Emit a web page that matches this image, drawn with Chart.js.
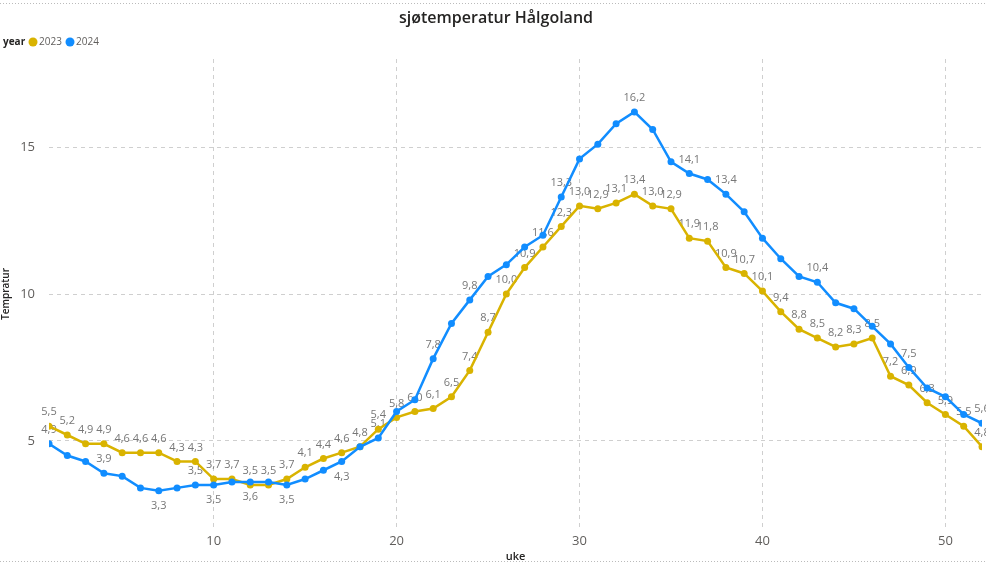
<!DOCTYPE html>
<html>
<head>
<meta charset="utf-8">
<script src="https://cdn.jsdelivr.net/npm/chart.js@4.4.0/dist/chart.umd.min.js"></script>
<style>
  html, body { margin: 0; padding: 0; background: #fff; }
  #wrap { width: 986px; height: 563px; }
</style>
</head>
<body>
<div id="wrap"><canvas id="myChart"></canvas></div>
<script>
// week numbers (uke)
const weeks = [1, 2, 3, 4, 5, 6, 7, 8, 9, 10, 11, 12, 13, 14, 15, 16, 17, 18, 19, 20, 21, 22, 23, 24, 25, 26,
  27, 28, 29, 30, 31, 32, 33, 34, 35, 36, 37, 38, 39, 40, 41, 42, 43, 44, 45, 46, 47, 48, 49, 50, 51, 52];

// sea temperature per week
const temp2023 = [5.5, 5.2, 4.9, 4.9, 4.6, 4.6, 4.6, 4.3, 4.3, 3.7, 3.7, 3.5, 3.5, 3.7, 4.1, 4.4, 4.6, 4.8, 5.4, 5.8,
  6.0, 6.1, 6.5, 7.4, 8.7, 10.0, 10.9, 11.6, 12.3, 13.0, 12.9, 13.1, 13.4, 13.0, 12.9, 11.9, 11.8, 10.9, 10.7, 10.1,
  9.4, 8.8, 8.5, 8.2, 8.3, 8.5, 7.2, 6.9, 6.3, 5.9, 5.5, 4.8];
const temp2024 = [4.9, 4.5, 4.3, 3.9, 3.8, 3.4, 3.3, 3.4, 3.5, 3.5, 3.6, 3.6, 3.6, 3.5, 3.7, 4.0, 4.3, 4.8, 5.1, 6.0,
  6.4, 7.8, 9.0, 9.8, 10.6, 11.0, 11.6, 12.0, 13.3, 14.6, 15.1, 15.8, 16.2, 15.6, 14.5, 14.1, 13.9, 13.4, 12.8, 11.9,
  11.2, 10.6, 10.4, 9.7, 9.5, 8.9, 8.3, 7.5, 6.8, 6.5, 5.9, 5.6];

const xTicks = [10, 20, 30, 40, 50];
const yTicks = [5, 10, 15];

// which 2024 weeks get a data label (the rest are hidden like in the report)
const labels2024Above = [1, 4, 9, 19, 22, 24, 29, 33, 36, 38, 43, 48, 52];
const labels2024Below = [7, 10, 12, 14, 17];

const YELLOW = '#D9B300';
const BLUE = '#118DFF';
const FONT = '"Open Sans", "DejaVu Sans", sans-serif';

const valueLabels = {
  id: 'valueLabels',
  beforeDatasetsDraw(chart) {
    const ctx = chart.ctx;
    ctx.save();
    ctx.font = '11px ' + FONT;
    ctx.fillStyle = '#777';
    ctx.textAlign = 'center';
    ctx.textBaseline = 'middle';
    chart.data.datasets.forEach((ds, i) => {
      const meta = chart.getDatasetMeta(i);
      meta.data.forEach((pt, j) => {
        const wk = weeks[j];
        let dy = null;
        if (ds.label === '2023') dy = -14;
        else if (labels2024Above.includes(wk)) dy = -14;
        else if (labels2024Below.includes(wk)) dy = 15;
        if (dy === null) return;
        ctx.fillText(ds.data[j].y.toFixed(1).replace('.', ','), pt.x, pt.y + dy);
      });
    });
    ctx.restore();
  }
};

// title, legend and the dotted visual border
const frame = {
  id: 'frame',
  afterDraw(chart) {
    const ctx = chart.ctx;
    const w = chart.width;
    ctx.save();
    ctx.strokeStyle = '#bbb';
    ctx.lineWidth = 1;
    ctx.setLineDash([1, 2]);
    ctx.beginPath();
    ctx.moveTo(0, 3.5); ctx.lineTo(w, 3.5);
    ctx.moveTo(0, 561.5); ctx.lineTo(w, 561.5);
    ctx.stroke();
    ctx.setLineDash([]);

    ctx.fillStyle = '#252423';
    ctx.font = '600 16px ' + FONT;
    ctx.textAlign = 'center';
    ctx.textBaseline = 'middle';
    ctx.fillText('sjøtemperatur Hålgoland', 496, 18);

    ctx.textAlign = 'left';
    ctx.font = 'bold 10px ' + FONT;
    ctx.fillText('year', 3, 42);
    ctx.font = '10px ' + FONT;
    const items = [['2023', YELLOW, 33], ['2024', BLUE, 70]];
    items.forEach(([txt, col, cx]) => {
      ctx.fillStyle = col;
      ctx.beginPath();
      ctx.arc(cx, 42, 4.5, 0, Math.PI * 2);
      ctx.fill();
      ctx.fillStyle = '#605E5C';
      ctx.fillText(txt, cx + 6, 42);
    });
    ctx.restore();
  }
};

const ctx = document.getElementById('myChart').getContext('2d');
new Chart(ctx, {
  type: 'line',
  data: {
    datasets: [
      {
        label: '2023',
        data: weeks.map((w, i) => ({ x: w, y: temp2023[i] })),
        borderColor: YELLOW,
        backgroundColor: YELLOW,
        borderWidth: 2.5,
        pointRadius: 3.5,
        pointBorderWidth: 0,
        tension: 0,
        order: 1
      },
      {
        label: '2024',
        data: weeks.map((w, i) => ({ x: w, y: temp2024[i] })),
        borderColor: BLUE,
        backgroundColor: BLUE,
        borderWidth: 2.5,
        pointRadius: 3.5,
        pointBorderWidth: 0,
        tension: 0,
        order: 0
      }
    ]
  },
  options: {
    responsive: true,
    maintainAspectRatio: false,
    animation: false,
    layout: { padding: { top: 59, right: 4, left: 0, bottom: 0 } },
    plugins: {
      legend: { display: false },
      title: { display: false },
      tooltip: { enabled: false }
    },
    scales: {
      x: {
        type: 'linear',
        min: 1,
        max: 52,
        afterBuildTicks: axis => { axis.ticks = xTicks.map(v => ({ value: v })); },
        afterFit: axis => { axis.height = 34; },
        border: { display: false, dash: [4, 4] },
        grid: { color: '#cfcfcf', lineWidth: 1, drawTicks: false },
        ticks: { color: '#605E5C', font: { family: FONT, size: 13 }, padding: 4, maxRotation: 0 },
        title: { display: true, text: 'uke', color: '#252423', font: { family: FONT, size: 11, weight: '600' }, padding: { top: 0, bottom: 0 } }
      },
      y: {
        min: 2,
        max: 18,
        afterBuildTicks: axis => { axis.ticks = yTicks.map(v => ({ value: v })); },
        afterFit: axis => { axis.width = 49; },
        border: { display: false, dash: [4, 4] },
        grid: { color: '#cfcfcf', lineWidth: 1, drawTicks: false },
        ticks: { color: '#605E5C', font: { family: FONT, size: 13 }, padding: 14 },
        title: { display: true, text: 'Tempratur', color: '#252423', font: { family: FONT, size: 10, weight: '600' }, padding: { top: 0, bottom: 0 } }
      }
    }
  },
  plugins: [valueLabels, frame]
});
</script>
</body>
</html>
